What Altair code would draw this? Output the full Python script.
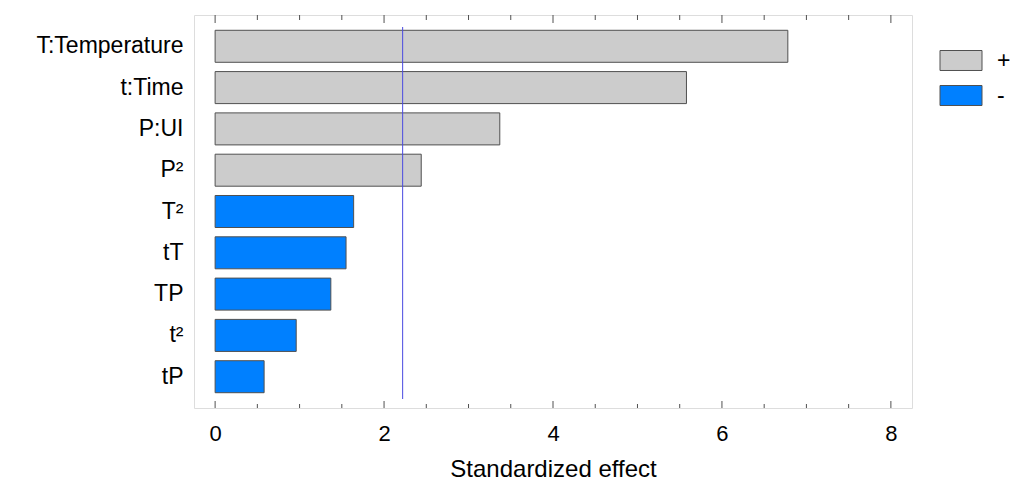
import altair as alt
import pandas as pd

terms = ["T:Temperature", "t:Time", "P:UI", "P²", "T²", "tT", "TP", "t²", "tP"]
effects = [6.78, 5.58, 3.37, 2.44, 1.64, 1.55, 1.37, 0.96, 0.58]
signs = ["+", "+", "+", "+", "-", "-", "-", "-", "-"]
ref_value = [2.22]
major_ticks = [0, 2, 4, 6, 8]
minor_ticks = [0.5, 1, 1.5, 2.5, 3, 3.5, 4.5, 5, 5.5, 6.5, 7, 7.5]

W, H = 718, 393
FONT = "Liberation Sans"

df = pd.DataFrame({"term": terms, "effect": effects, "sign": signs})
ref_df = pd.DataFrame({"effect": ref_value})
major_df = pd.DataFrame({"effect": major_ticks})
minor_df = pd.DataFrame({"effect": minor_ticks})

xscale = alt.Scale(domain=[-0.25, 8.25], nice=False, zero=False)
xaxis = alt.Axis(values=major_ticks, ticks=False, tickSize=0, domain=False, grid=False,
                 labelFontSize=22, labelPadding=15, labelColor="black", labelFont=FONT,
                 titleFontSize=24, titleFontWeight="normal",
                 titleFont=FONT, titleColor="black", titlePadding=13)

def X():
    return alt.X("effect:Q", scale=xscale, axis=xaxis, title="Standardized effect")

bars = alt.Chart(df).mark_bar(stroke="#505050", strokeWidth=1).encode(
    x=X(),
    y=alt.Y("term:N", sort=terms,
            scale=alt.Scale(paddingInner=0.225, paddingOuter=0.37),
            axis=alt.Axis(title=None, ticks=False, tickSize=0, domain=False, grid=False,
                          labelFontSize=23, labelPadding=11, labelColor="black", labelFont=FONT)),
    color=alt.Color("sign:N",
                    scale=alt.Scale(domain=["+", "-"], range=["#cccccc", "#0080ff"]),
                    legend=alt.Legend(title=None, orient="none", legendX=755.5, legendY=34,
                                      symbolType="M-2,-0.952H2V0.952H-2Z", symbolSize=441,
                                      symbolStrokeColor="#505050", symbolStrokeWidth=1,
                                      symbolOpacity=1, labelFontSize=23, labelFont=FONT,
                                      labelColor="black", labelOffset=24.5, rowPadding=10)),
)

ref = alt.Chart(ref_df).mark_rule(color="#4a4ae0", strokeWidth=1).encode(
    x=X(), y=alt.value(12), y2=alt.value(384),
)

tick_color = "#505050"
major_bottom = alt.Chart(major_df).mark_rule(color=tick_color, strokeWidth=1).encode(
    x=X(), y=alt.value(H - 7), y2=alt.value(H))
minor_bottom = alt.Chart(minor_df).mark_rule(color=tick_color, strokeWidth=1).encode(
    x=X(), y=alt.value(H - 4), y2=alt.value(H))
major_top = alt.Chart(major_df).mark_rule(color=tick_color, strokeWidth=1).encode(
    x=X(), y=alt.value(0), y2=alt.value(8))
minor_top = alt.Chart(minor_df).mark_rule(color=tick_color, strokeWidth=1).encode(
    x=X(), y=alt.value(0), y2=alt.value(5))

chart = alt.layer(bars, ref, major_bottom, minor_bottom, major_top, minor_top).properties(
    width=W, height=H,
    autosize=alt.AutoSizeParams(type="none"),
    padding={"left": 186, "top": 7, "right": 104, "bottom": 80},
).configure_view(stroke="#505050", strokeWidth=1).configure(background="white")

chart.save("out.html", embed_options={"renderer": "svg", "actions": False})
